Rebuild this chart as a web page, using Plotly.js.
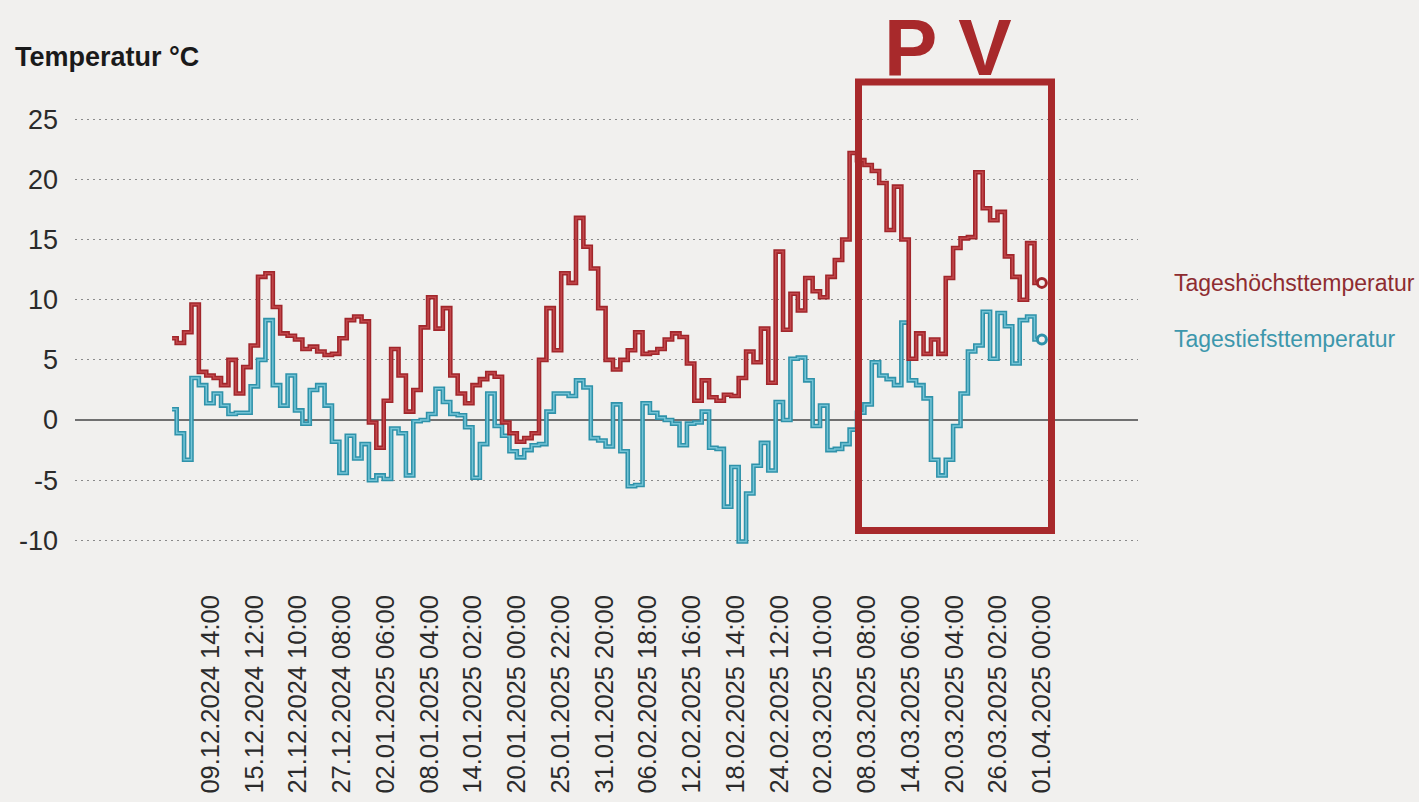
<!DOCTYPE html>
<html>
<head>
<meta charset="utf-8">
<script src="https://cdn.plot.ly/plotly-3.0.1.min.js"></script>
<style>
  html, body { margin: 0; padding: 0; background: #f1f0ee; }
  #chart { width: 1419px; height: 802px; }
</style>
</head>
<body>
<div id="chart"></div>
<script>
// ---------------- data ----------------
const seriesNames = ['Tageshöchsttemperatur', 'Tagestiefsttemperatur'];
const firstTimestamp = '2024-12-04 09:00';   // first (partial) day
const firstMidnight = '2024-12-05';          // each following value starts at midnight
const lastTimestamp = '2025-04-01 00:00';    // end of the series (marker)

// daily maximum, 04.12.2024 ... 31.03.2025
const highs = [
  6.8, 6.4, 7.3, 9.6, 4.0, 3.7, 3.5, 2.9, 5.0, 2.2, 4.4, 6.2, 11.9, 12.2, 9.4, 7.2, 7.0, 6.7, 5.9, 6.1,
  5.7, 5.4, 5.5, 6.8, 8.3, 8.6, 8.2, -0.2, -2.3, 1.6, 5.9, 3.7, 0.7, 2.5, 7.7, 10.2, 7.6, 9.3, 3.7, 2.2,
  1.4, 2.9, 3.4, 3.9, 3.6, -0.2, -1.1, -1.8, -1.5, -1.1, 5.0, 9.3, 5.8, 12.2, 11.4, 16.8, 14.4, 12.6, 9.3, 5.0,
  4.2, 5.0, 5.8, 7.3, 5.5, 5.6, 5.9, 6.7, 7.2, 6.9, 4.7, 1.6, 3.3, 1.9, 1.6, 2.1, 2.0, 3.5, 5.7, 4.8,
  7.6, 3.1, 14.0, 7.5, 10.5, 9.1, 11.8, 10.7, 10.2, 11.9, 13.3, 15.0, 22.2, 21.6, 21.2, 20.7, 19.7, 15.8, 19.4, 15.0,
  5.1, 7.2, 5.5, 6.7, 5.5, 11.8, 14.3, 15.1, 15.2, 20.6, 17.6, 16.6, 17.3, 13.6, 11.9, 10.0, 14.7, 11.4
];
// daily minimum, 04.12.2024 ... 31.03.2025
const lows = [
  0.9, -1.1, -3.3, 3.5, 2.9, 1.4, 2.2, 1.2, 0.5, 0.6, 0.6, 2.8, 5.0, 8.3, 2.9, 1.2, 3.7, 0.8, -0.3, 2.5,
  2.9, 1.2, -1.8, -4.4, -1.3, -3.2, -2.0, -5.0, -4.6, -4.9, -0.7, -1.1, -4.6, -0.1, 0.0, 0.5, 2.6, 1.5, 0.5, 0.4,
  -0.6, -4.8, -2.0, 2.2, -0.5, -1.3, -2.6, -3.1, -2.5, -2.1, -2.0, 0.7, 2.2, 2.2, 2.0, 3.3, 2.7, -1.5, -1.7, -2.2,
  1.3, -2.6, -5.5, -5.4, 1.4, 0.6, 0.2, 0.0, -0.3, -2.1, -0.3, -0.2, 0.7, -2.3, -2.4, -7.2, -3.9, -10.1, -6.1, -3.8,
  -1.9, -4.2, 1.5, 0.0, 5.1, 5.2, 3.3, -0.5, 1.2, -2.5, -2.4, -2.0, -0.8, 0.6, 1.3, 4.8, 3.7, 3.4, 2.9, 8.1,
  3.3, 2.9, 1.8, -3.3, -4.6, -3.3, -0.5, 2.2, 5.7, 6.2, 9.0, 5.1, 8.9, 7.8, 4.7, 8.3, 8.6, 6.7
];

const xTickLabels = [
  '09.12.2024 14:00', '15.12.2024 12:00', '21.12.2024 10:00', '27.12.2024 08:00',
  '02.01.2025 06:00', '08.01.2025 04:00', '14.01.2025 02:00', '20.01.2025 00:00',
  '25.01.2025 22:00', '31.01.2025 20:00', '06.02.2025 18:00', '12.02.2025 16:00',
  '18.02.2025 14:00', '24.02.2025 12:00', '02.03.2025 10:00', '08.03.2025 08:00',
  '14.03.2025 06:00', '20.03.2025 04:00', '26.03.2025 02:00', '01.04.2025 00:00'
];
const yTickValues = [-10, -5, 0, 5, 10, 15, 20, 25];
const yTickLabels = ['-10', '-5', '0', '5', '10', '15', '20', '25'];
const axisTitle = 'Temperatur °C';
const boxLabel = 'P V';

// ---------------- helpers ----------------
function pad(n) { return (n < 10 ? '0' : '') + n; }
function dayString(base, offset) {
  const d = new Date(base + 'T00:00:00Z');
  d.setUTCDate(d.getUTCDate() + offset);
  return d.getUTCFullYear() + '-' + pad(d.getUTCMonth() + 1) + '-' + pad(d.getUTCDate());
}
function labelToDate(s) {
  const [date, time] = s.split(' ');
  const [dd, mm, yyyy] = date.split('.');
  return yyyy + '-' + mm + '-' + dd + ' ' + time;
}

// step positions: first partial day, then each midnight, then the end point
const xs = [firstTimestamp];
for (let k = 1; k < highs.length; k++) xs.push(dayString(firstMidnight, k - 1));
xs.push(lastTimestamp);
function withEnd(values) { return values.concat([values[values.length - 1]]); }

const FONT = '"Liberation Sans", Arial, sans-serif';
const BG = '#f1f0ee';
const RED = '#a1262b', RED_IN = '#c2474b';
const BLUE = '#2f92aa', BLUE_IN = '#74c4d6';

function seriesTraces(values, outer, inner) {
  const y = withEnd(values);
  return [
    { x: xs, y: y, type: 'scatter', mode: 'lines', line: { shape: 'hv', width: 4.6, color: outer }, hoverinfo: 'skip' },
    { x: xs, y: y, type: 'scatter', mode: 'lines', line: { shape: 'hv', width: 1.5, color: inner }, hoverinfo: 'skip' },
    { x: [xs[xs.length - 1]], y: [y[y.length - 1]], type: 'scatter', mode: 'markers',
      marker: { symbol: 'circle', size: 9, color: BG, line: { color: outer, width: 3 } }, hoverinfo: 'skip' }
  ];
}

const data = [].concat(seriesTraces(lows, BLUE, BLUE_IN), seriesTraces(highs, RED, RED_IN));

const layout = {
  width: 1419, height: 802,
  paper_bgcolor: BG, plot_bgcolor: BG,
  margin: { l: 75, r: 281, t: 100, b: 227 },
  showlegend: false,
  hovermode: false,
  font: { family: FONT, color: '#2b2b2b' },
  title: {
    text: axisTitle, xref: 'container', yref: 'container',
    x: 15 / 1419, xanchor: 'left', y: 1 - 57 / 802, yanchor: 'middle',
    font: { family: FONT, size: 27, weight: 'bold', color: '#1a1a1a' }
  },
  xaxis: {
    type: 'date',
    range: ['2024-11-21 06:00', '2025-04-14 00:00'],
    tickmode: 'array',
    tickvals: xTickLabels.map(labelToDate),
    ticktext: xTickLabels,
    tickangle: -90,
    ticks: '',
    ticklabelstandoff: 14,
    showgrid: false, zeroline: false, showline: false,
    tickfont: { family: FONT, size: 25.5, color: '#2b2b2b' }
  },
  yaxis: {
    range: [-12.88, 26.6],
    tickmode: 'array',
    tickvals: yTickValues,
    ticktext: yTickLabels,
    ticks: '',
    ticklabelstandoff: 16,
    showgrid: true, gridcolor: '#8a8a8a', gridwidth: 1.2, griddash: '1.5px,4.5px',
    zeroline: true, zerolinecolor: '#707070', zerolinewidth: 2,
    showline: false,
    tickfont: { family: FONT, size: 27, color: '#2b2b2b' }
  },
  annotations: [
    { text: seriesNames[0], xref: 'paper', yref: 'y', x: (1172 - 75) / 1063, y: highs[highs.length - 1],
      xanchor: 'left', yanchor: 'middle', showarrow: false,
      font: { family: FONT, size: 23, color: '#8e2c30' } },
    { text: seriesNames[1], xref: 'paper', yref: 'y', x: (1172 - 75) / 1063, y: lows[lows.length - 1],
      xanchor: 'left', yanchor: 'middle', showarrow: false,
      font: { family: FONT, size: 23, color: '#3d97ac' } },
    { text: boxLabel, xref: 'paper', yref: 'paper', x: (948 - 75) / 1063, y: (575 - 1) / 475,
      xanchor: 'center', yanchor: 'top', showarrow: false,
      font: { family: FONT, size: 80, weight: 'bold', color: '#a8292b' } }
  ],
  shapes: [
    { type: 'rect', xref: 'paper', yref: 'paper',
      x0: (858.5 - 75) / 1063, x1: (1051.5 - 75) / 1063,
      y0: (575 - 530.5) / 475, y1: (575 - 82) / 475,
      line: { color: '#a8292b', width: 7 }, fillcolor: 'rgba(0,0,0,0)', layer: 'above' }
  ]
};

Plotly.newPlot('chart', data, layout, { displayModeBar: false, staticPlot: true });
</script>
</body>
</html>
